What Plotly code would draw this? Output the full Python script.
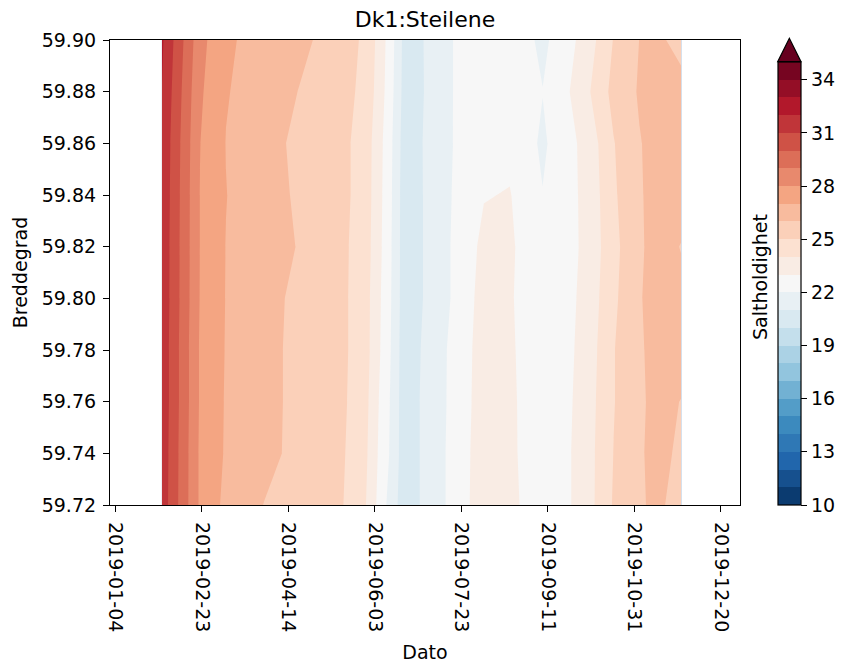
import plotly.graph_objects as go

# ---------------- data ----------------
dates = ["2019-01-31", "2019-02-22", "2019-03-09", "2019-03-31", "2019-04-20",
         "2019-05-13", "2019-05-28", "2019-06-05", "2019-06-12", "2019-06-20",
         "2019-07-03", "2019-07-19", "2019-08-05", "2019-08-20", "2019-09-08",
         "2019-09-20", "2019-10-05", "2019-10-19", "2019-11-03", "2019-11-14",
         "2019-11-27"]

latitudes = [59.72, 59.74, 59.76, 59.78, 59.80, 59.82, 59.84, 59.86, 59.88, 59.90]

# salinity rows: one per latitude (bottom -> top), one value per date
sal_5972 = [31.60, 27.85, 26.75, 25.98, 25.60, 25.20, 24.15, 22.80, 21.60, 20.45, 21.25,
            22.35, 23.60, 23.25, 22.40, 22.70, 23.70, 25.10, 25.95, 26.10, 25.75]
sal_5974 = [31.65, 27.85, 26.90, 26.30, 25.72, 25.25, 24.30, 22.95, 21.90, 20.45, 21.25,
            22.35, 23.55, 23.20, 22.35, 22.70, 23.70, 25.02, 25.95, 26.15, 25.90]
sal_5976 = [31.70, 27.90, 26.92, 26.30, 25.75, 25.30, 24.40, 23.05, 21.95, 20.45, 21.25,
            22.30, 23.50, 23.20, 22.30, 22.65, 23.65, 24.95, 25.90, 26.20, 25.98]
sal_5978 = [31.70, 27.90, 26.95, 26.30, 25.75, 25.30, 24.50, 23.20, 22.05, 20.45, 21.20,
            22.30, 23.45, 23.15, 22.30, 22.60, 23.55, 24.95, 25.90, 26.30, 26.30]
sal_5980 = [31.75, 27.96, 26.97, 26.33, 25.78, 25.30, 24.50, 23.25, 22.10, 20.50, 21.10,
            22.15, 23.40, 23.10, 22.30, 22.55, 23.45, 24.80, 25.95, 26.30, 26.20]
sal_5982 = [31.75, 27.98, 26.98, 26.50, 25.95, 25.30, 24.55, 23.35, 22.15, 20.50, 21.10,
            22.15, 23.25, 23.15, 22.25, 22.50, 23.35, 24.70, 25.90, 26.30, 25.97]
sal_5984 = [31.80, 27.98, 27.02, 26.45, 25.85, 25.35, 24.60, 23.40, 22.20, 20.50, 21.10,
            22.10, 22.95, 23.05, 22.03, 22.55, 23.35, 24.85, 25.90, 26.40, 26.35]
sal_5986 = [31.85, 28.02, 26.98, 26.35, 25.80, 25.35, 24.60, 23.45, 22.25, 20.55, 21.10,
            22.05, 22.70, 22.75, 21.85, 22.50, 23.45, 24.95, 25.95, 26.35, 26.35]
sal_5988 = [31.98, 28.15, 27.05, 26.60, 25.98, 25.45, 24.75, 23.65, 22.40, 20.65, 21.05,
            22.05, 22.55, 22.60, 22.02, 22.70, 23.95, 25.30, 26.10, 26.30, 26.20]
sal_5990 = [32.15, 28.35, 27.10, 26.75, 26.25, 25.55, 24.85, 23.75, 22.50, 20.70, 21.05,
            22.05, 22.50, 22.60, 21.80, 22.45, 23.60, 25.05, 26.02, 26.10, 25.80]

salinity = [sal_5972, sal_5974, sal_5976, sal_5978, sal_5980,
            sal_5982, sal_5984, sal_5986, sal_5988, sal_5990]

level_start, level_end, level_step = 10, 35, 1
cbar_ticks = [10, 13, 16, 19, 22, 25, 28, 31, 34]
x_ticks = ["2019-01-04", "2019-02-23", "2019-04-14", "2019-06-03",
           "2019-07-23", "2019-09-11", "2019-10-31", "2019-12-20"]
y_ticks = [59.72, 59.74, 59.76, 59.78, 59.80, 59.82, 59.84, 59.86, 59.88, 59.90]

# ---------------- colours (RdBu_r, 25 discrete bands) ----------------
RDBU = ["#67001f", "#b2182b", "#d6604d", "#f4a582", "#fddbc7", "#f7f7f7",
        "#d1e5f0", "#92c5de", "#4393c3", "#2166ac", "#053061"]
ANCH = RDBU[::-1]


def h2rgb(h):
    h = h.lstrip("#")
    return [int(h[i:i + 2], 16) for i in (0, 2, 4)]


def rdbu_r(t):
    t = min(max(t, 0.0), 1.0)
    pos = t * 10
    i = min(int(pos), 9)
    f = pos - i
    a, b = h2rgb(ANCH[i]), h2rgb(ANCH[i + 1])
    c = [round(a[k] + (b[k] - a[k]) * f) for k in range(3)]
    return "rgb(%d,%d,%d)" % tuple(c)


nb = int((level_end - level_start) / level_step)
band_cols = [rdbu_r((k + 0.5) / nb) for k in range(nb)]
under_col = rdbu_r(0.0)
over_col = rdbu_r(1.0)

# contour fill colour map: band [L, L+1] sampled at (L - start + 1)/(nb + 1)
cont_cols = [under_col] + band_cols + [over_col]
ncc = len(cont_cols) - 1
contour_scale = []
for j, c in enumerate(cont_cols):
    lo = max(0.0, (j - 0.5) / ncc)
    hi = min(1.0, (j + 0.5) / ncc)
    contour_scale.append([lo, c])
    contour_scale.append([hi, c])

cb_scale = []
for k, c in enumerate(band_cols):
    cb_scale.append([k / nb, c])
    cb_scale.append([(k + 1) / nb, c])

# ---------------- geometry (pixels, page has an 8px body offset) ----------------
OFF = 8
W, H = 843, 663
L, R, T, B = 110 - OFF, 740 - OFF, 40 - OFF, 505 - OFF
pw, ph = R - L, B - T
cb_x0, cb_x1 = 777.7 - OFF, 801.0 - OFF
cb_top, cb_tip = 61.7 - OFF, 38.3 - OFF

FONT = "DejaVu Sans"

fig = go.Figure()
fig.add_trace(go.Contour(
    x=dates, y=latitudes, z=salinity,
    colorscale=contour_scale,
    autocontour=False,
    contours=dict(start=level_start, end=level_end, size=level_step,
                  coloring="fill", showlines=False),
    line=dict(width=0, smoothing=0),
    showscale=False,
    hoverinfo="skip",
))

fig.add_trace(go.Scatter(
    x=[None], y=[None], mode="markers", showlegend=False, hoverinfo="skip",
    marker=dict(
        color=[level_start], cmin=level_start, cmax=level_end,
        colorscale=cb_scale, showscale=True,
        colorbar=dict(
            x=(cb_x0 - L) / pw, xanchor="left", xpad=0,
            y=0, yanchor="bottom", ypad=0,
            len=(B - cb_top) / ph, lenmode="fraction",
            thickness=cb_x1 - cb_x0, thicknessmode="pixels",
            outlinewidth=1.2, outlinecolor="black",
            tickvals=cbar_ticks, ticks="outside", ticklen=6, tickwidth=1.2,
            tickcolor="black",
            tickfont=dict(size=19, color="black", family=FONT),
        ),
    ),
))

# extend-max triangle on top of the colour bar
tx0 = (cb_x0 - L) / pw
tx1 = (cb_x1 - L) / pw
ty0 = (B - cb_top) / ph
tyt = (B - cb_tip) / ph
fig.add_shape(type="path", xref="paper", yref="paper",
              path=f"M {tx0},{ty0} L {tx1},{ty0} L {(tx0 + tx1) / 2},{tyt} Z",
              fillcolor=over_col, line=dict(color="black", width=1.2))

fig.add_annotation(text="Saltholdighet", xref="paper", yref="paper",
                   x=(760 - OFF - L) / pw, y=(B - (277 - OFF)) / ph, textangle=-90,
                   showarrow=False, xanchor="center", yanchor="middle",
                   font=dict(size=19, color="black", family=FONT))

axis_common = dict(showline=True, linecolor="black", linewidth=1.2, mirror=True,
                   ticks="outside", ticklen=6, tickwidth=1.2, tickcolor="black",
                   showgrid=False, zeroline=False,
                   tickfont=dict(size=19, color="black", family=FONT))

fig.update_layout(
    width=W, height=H,
    margin=dict(l=L, r=W - R, t=T, b=H - B, autoexpand=False),
    paper_bgcolor="white", plot_bgcolor="white",
    font=dict(family=FONT, color="black", size=19),
    title=dict(text="Dk1:Steilene", x=0.5, xref="paper",
               xanchor="center", y=1 - (19.5 - OFF) / H, yref="container",
               yanchor="middle",
               font=dict(size=22, color="black", family=FONT)),
    xaxis=dict(type="date", range=["2019-01-01", "2019-12-31"],
               tickvals=x_ticks, ticktext=x_ticks, tickangle=90,
               ticklabelstandoff=6,
               title=dict(text="Dato", font=dict(size=19, color="black", family=FONT),
                          standoff=14),
               **axis_common),
    yaxis=dict(range=[59.72, 59.90], tickvals=y_ticks,
               ticktext=["%.2f" % v for v in y_ticks],
               ticklabelstandoff=3,
               title=dict(text="Breddegrad", font=dict(size=19, color="black", family=FONT),
                          standoff=9),
               **axis_common),
)

fig.write_html("out.html")
